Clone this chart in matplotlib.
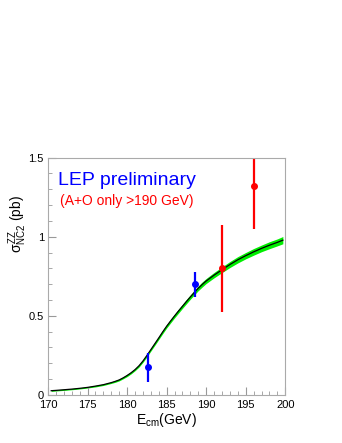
import matplotlib.pyplot as plt
from matplotlib.ticker import MultipleLocator
import numpy as np

plt.rcParams['font.family'] = ['Liberation Sans', 'DejaVu Sans']
plt.rcParams['mathtext.fontset'] = 'custom'
plt.rcParams['mathtext.rm'] = 'Liberation Sans'
plt.rcParams['mathtext.it'] = 'Liberation Sans'

# theory curve
curve_e = [170.4, 171, 172, 173, 174, 175, 176, 177, 178, 178.5, 179, 179.5,
           180, 180.5, 181, 181.5, 182, 182.5, 183, 183.5, 184, 184.5, 185,
           185.5, 186, 186.5, 187, 187.5, 188, 188.5, 189, 189.5, 190, 191,
           192, 193, 194, 195, 196, 197, 198, 199, 199.7]
curve_xs = [0.027, 0.029, 0.033, 0.037, 0.042, 0.048, 0.056, 0.065, 0.078,
            0.086, 0.095, 0.108, 0.123, 0.140, 0.160, 0.184, 0.214, 0.249,
            0.286, 0.323, 0.360, 0.398, 0.434, 0.467, 0.499, 0.530, 0.560,
            0.590, 0.619, 0.647, 0.674, 0.698, 0.720, 0.757, 0.791, 0.824,
            0.854, 0.880, 0.904, 0.926, 0.946, 0.964, 0.978]
band_half = [0.0, 0.0, 0.0, 0.0, 0.0, 0.0, 0.001, 0.001, 0.001, 0.002, 0.002,
             0.002, 0.003, 0.003, 0.003, 0.004, 0.004, 0.005, 0.005, 0.006,
             0.006, 0.007, 0.007, 0.008, 0.008, 0.009, 0.009, 0.010, 0.010,
             0.011, 0.011, 0.012, 0.012, 0.013, 0.014, 0.015, 0.016, 0.016,
             0.017, 0.017, 0.018, 0.018, 0.019]

# measurements
blue_e = [182.7, 188.6]
blue_xs = [0.177, 0.700]
blue_lo = [0.095, 0.078]
blue_hi = [0.089, 0.077]

red_e = [192.0, 196.0]
red_xs = [0.800, 1.318]
red_lo = [0.277, 0.269]
red_hi = [0.274, 0.300]

fig = plt.figure(figsize=(3.42, 4.43), dpi=100)
ax = fig.add_axes([0.1404, 0.1084, 0.6936, 0.536])

e = np.array(curve_e)
xs = np.array(curve_xs)
hw = np.array(band_half)
ax.fill_between(e, xs - hw - 0.004, xs + hw + 0.004, color='#00ee00', lw=0)
ax.plot(e, xs, color='black', lw=0.9)

ax.errorbar(blue_e, blue_xs, yerr=[blue_lo, blue_hi], fmt='o', color='#0000ff',
            ms=4, elinewidth=1.6, capsize=0)
ax.errorbar(red_e, red_xs, yerr=[red_lo, red_hi], fmt='o', color='#ff0000',
            ms=4, elinewidth=1.6, capsize=0)

ax.set_xlim(170, 200)
ax.set_ylim(0, 1.5)
ax.xaxis.set_major_locator(MultipleLocator(5))
ax.xaxis.set_minor_locator(MultipleLocator(1))
ax.yaxis.set_minor_locator(MultipleLocator(0.1))
ax.set_yticks([0, 0.5, 1, 1.5])
ax.set_yticklabels(['0', '0.5', '1', '1.5'])
ax.tick_params(which='both', direction='in', labelsize=8, color='#999999')
ax.tick_params(axis='x', pad=3.5)
ax.tick_params(axis='y', pad=3)
ax.tick_params(which='major', length=6)
ax.tick_params(which='minor', length=3)
for s in ax.spines.values():
    s.set_color('#aaaaaa')

ax.set_xlabel(r'E$_{\rm cm}$(GeV)', fontsize=10, labelpad=1)
fig.text(18 / 342, 1 - 195 / 443, r'$\sigma^{ZZ}_{NC2}$ (pb)', rotation=90,
         ha='center', va='top', fontsize=10)

ax.text(0.044, 0.905, 'LEP preliminary', transform=ax.transAxes,
        color='#0000ff', fontsize=14, va='center')
ax.text(0.05, 0.816, '(A+O only >190 GeV)', transform=ax.transAxes,
        color='#ff0000', fontsize=10, va='center')

fig.savefig('out.png', dpi=100)
